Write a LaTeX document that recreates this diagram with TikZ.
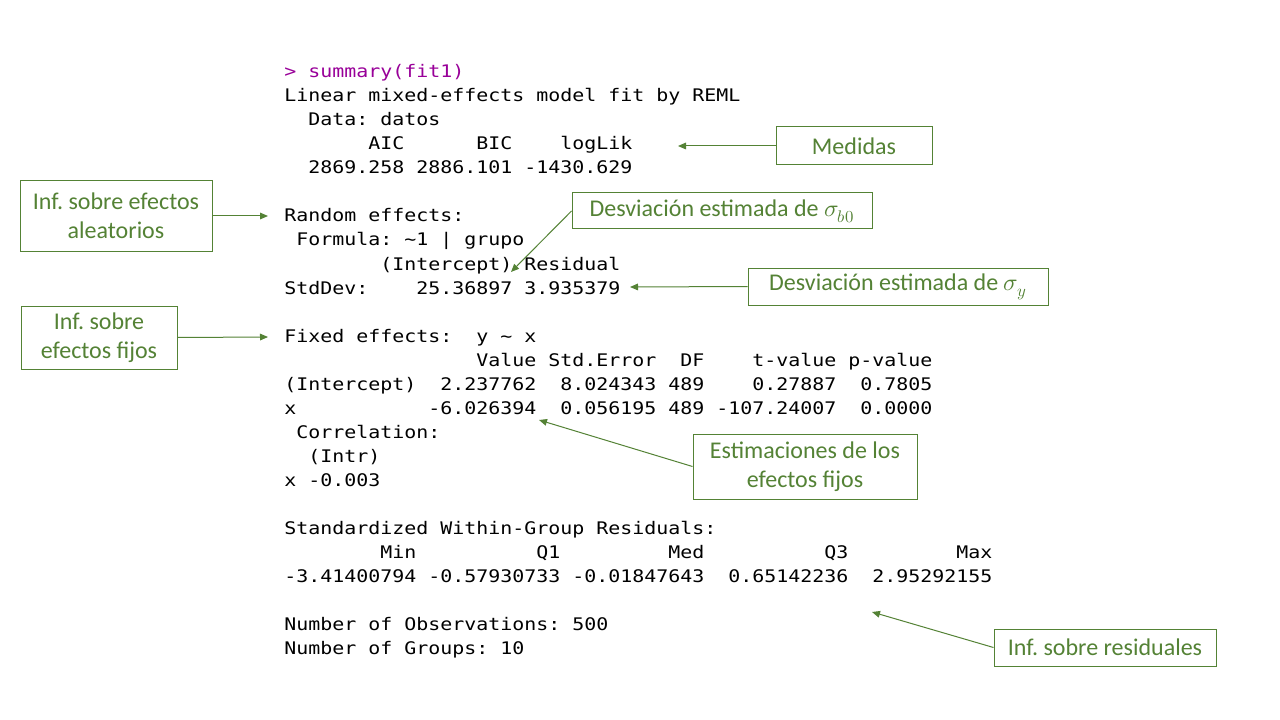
\documentclass[tikz,border=0pt]{standalone}
\usepackage{fontspec}
\usepackage{unicode-math}
\setmathfont{Latin Modern Math}
\usetikzlibrary{arrows.meta}
\newfontfamily\codefont[FakeStretch=1.15]{DejaVu Sans Mono}
\newfontfamily\boxfont{Carlito}
\definecolor{boxgreen}{HTML}{548235}
\definecolor{rprompt}{HTML}{990099}
\newcommand\sk[1]{\hspace*{#1\dimexpr 9pt\relax}}
\frenchspacing
\tikzset{
  code/.style={anchor=base west, inner sep=0pt, font=\codefont\fontsize{13}{16}\selectfont, text=black},
  note/.style={draw=boxgreen, line width=0.75pt, inner sep=0pt, align=center, text=boxgreen,
    font=\boxfont\fontsize{18}{22}\selectfont},
  conn/.style={draw=boxgreen, line width=0.75pt, -{Triangle[length=6pt,width=5pt]}}
}
\begin{document}
\begin{tikzpicture}[x=0.75pt,y=-0.75pt]
\useasboundingbox[fill=white] (0,0) rectangle (1280,720);
% code listing
\node[code] (l0)  at (284,78)  {\color{rprompt}> summary(fit1)};
\node[code] (l1)  at (284,102) {Linear mixed-effects model fit by REML};
\node[code] (l2)  at (284,126) {\sk{2}Data: datos};
\node[code] (l3)  at (284,150) {\sk{7}AIC\sk{6}BIC\sk{4}logLik};
\node[code] (l4)  at (284,174) {\sk{2}2869.258 2886.101 -1430.629};
\node[code] (l6)  at (284,222) {Random effects:};
\node[code] (l7)  at (284,246) {\sk{1}Formula: \textasciitilde1 | grupo};
\node[code] (l8)  at (284,270) {\sk{8}(Intercept) Residual};
\node[code] (l9)  at (284,294) {StdDev:\sk{4}25.36897 3.935379};
\node[code] (l11) at (284,342) {Fixed effects:\sk{2}y \textasciitilde{} x};
\node[code] (l12) at (284,366) {\sk{16}Value Std.Error\sk{2}DF\sk{4}t-value p-value};
\node[code] (l13) at (284,390) {(Intercept)\sk{2}2.237762\sk{2}8.024343 489\sk{4}0.27887\sk{2}0.7805};
\node[code] (l14) at (284,414) {x\sk{11}-6.026394\sk{2}0.056195 489 -107.24007\sk{2}0.0000};
\node[code] (l15) at (284,438) {\sk{1}Correlation:};
\node[code] (l16) at (284,462) {\sk{2}(Intr)};
\node[code] (l17) at (284,486) {x -0.003};
\node[code] (l19) at (284,534) {Standardized Within-Group Residuals:};
\node[code] (l20) at (284,558) {\sk{8}Min\sk{10}Q1\sk{9}Med\sk{10}Q3\sk{9}Max};
\node[code] (l21) at (284,582) {-3.41400794 -0.57930733 -0.01847643\sk{2}0.65142236\sk{2}2.95292155};
\node[code] (l23) at (284,630) {Number of Observations: 500};
\node[code] (l24) at (284,654) {Number of Groups: 10};
% annotation boxes
\node[note, minimum width=117pt, minimum height=28.5pt] (medidas) at (854,146) {Medidas};
\node[note, minimum width=144pt, minimum height=52.5pt] (aleat) at (116,216) {Inf. sobre efectos\\aleatorios};
\node[note, minimum width=225pt, minimum height=27pt] (sigb) at (722,211) {Desviación estimada de $\sigma_{b0}$};
\node[note, minimum width=225pt, minimum height=27.75pt] (sigy) at (898,286.5) {Desviación estimada de $\sigma_{y}$};
\node[note, minimum width=117pt, minimum height=47.25pt] (fijos) at (99,337.5) {Inf. sobre\\efectos fijos};
\node[note, minimum width=168pt, minimum height=48.75pt] (estim) at (805,466.5) {Estimaciones de los\\efectos fijos};
\node[note, minimum width=166.5pt, minimum height=27.75pt] (resid) at (1105,647.5) {Inf. sobre residuales};
% arrow targets
\coordinate (tmed) at (678,146);
\coordinate (tale) at (268,216);
\coordinate (tsb) at (511,272);
\coordinate (tsy) at (630,287);
\coordinate (tfij) at (268,337);
\coordinate (test) at (539,420);
\coordinate (tres) at (872,612);
% connectors
\draw[conn] (medidas.west) -- (tmed);
\draw[conn] (aleat.east) -- (tale);
\draw[conn] (sigb.west) -- (tsb);
\draw[conn] (sigy.west) -- (tsy);
\draw[conn] (fijos.east) -- (tfij);
\draw[conn] (estim.west) -- (test);
\draw[conn] (resid.west) -- (tres);
\end{tikzpicture}
\end{document}
